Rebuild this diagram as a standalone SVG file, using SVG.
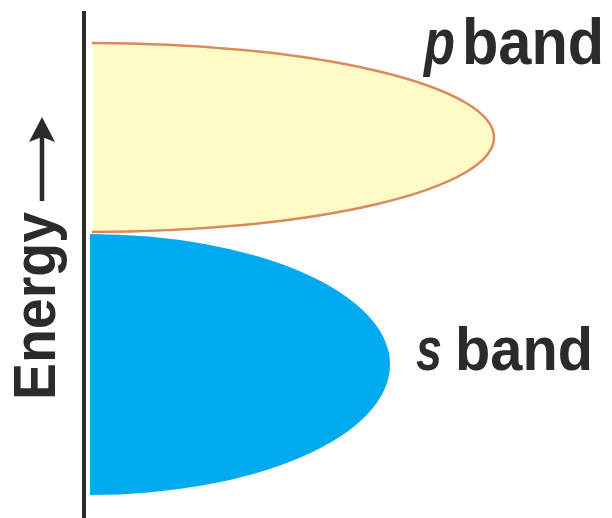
<svg xmlns="http://www.w3.org/2000/svg" width="612" height="518" viewBox="0 0 612 518">
  <style>
    .label { font-family: "Liberation Sans", Arial, sans-serif; font-weight: bold; fill: #2b2b2b; }
    .sym { font-style: italic; }
  </style>
  <rect width="612" height="518" fill="#ffffff"/>

  <!-- energy axis -->
  <g id="axis">
    <line x1="84" y1="11" x2="84" y2="518" stroke="#2b2b2b" stroke-width="4"/>
    <line x1="42" y1="201" x2="42" y2="134" stroke="#2b2b2b" stroke-width="4.5"/>
    <path d="M42,117 L55,142 L42,137 L29,142 Z" fill="#2b2b2b"/>
    <text class="label" font-size="59" textLength="188" lengthAdjust="spacingAndGlyphs" transform="translate(55,400) rotate(-90)">Energy</text>
  </g>

  <!-- p band -->
  <g id="p-band">
    <path d="M93,43 A402,94.5 0 0 1 93,232 Z" fill="#fffbc6"/>
    <path d="M92,43 A402,94.5 0 0 1 92,232" fill="none" stroke="#d98a5c" stroke-width="2.5"/>
    <text class="label sym" x="424" y="64" font-size="64" textLength="31" lengthAdjust="spacingAndGlyphs">p</text>
    <text class="label" font-size="64" transform="translate(462,64) scale(0.93,1)">band</text>
  </g>

  <!-- s band -->
  <g id="s-band">
    <path d="M90,234 A300,130.5 0 0 1 90,495 Z" fill="#00aaee"/>
    <text class="label sym" x="416" y="370" font-size="62" textLength="26" lengthAdjust="spacingAndGlyphs">s</text>
    <text class="label" x="455" y="370" font-size="62" textLength="138" lengthAdjust="spacingAndGlyphs">band</text>
  </g>
</svg>
